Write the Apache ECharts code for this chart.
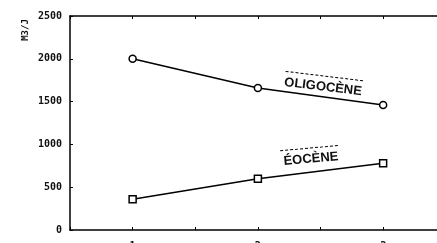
<!DOCTYPE html>
<html><head><meta charset="utf-8">
<script src="https://cdn.jsdelivr.net/npm/echarts@6/dist/echarts.min.js"></script>
<style>html,body{margin:0;padding:0;background:#fff}#c{width:437px;height:243px}</style>
</head><body><div id="c"></div>
<script>
const xValues = [1, 2, 3];
const oligocene = [2000, 1660, 1460];
const eocene = [360, 600, 780];
const yTicks = [0, 500, 1000, 1500, 2000, 2500];
const xTickLabels = ['1', '2', '3'];
const yName = 'M3/J';
const labelOligo = 'OLIGOCÈNE';
const labelEo = 'ÉOCÈNE';

const chart = echarts.init(document.getElementById('c'), null, {renderer: 'canvas'});
const lineStyle = {color: '#000', width: 1.5};
const xCommon = {type: 'value', min: 0.5, max: 3.43, interval: 0.5,
  splitLine: {show: false},
  axisLine: {show: true, lineStyle: {color: '#000', width: 1.5}},
  axisTick: {show: true, inside: true, length: 3, lineStyle: {color: '#000', width: 1}}};
chart.setOption({
  animation: false,
  grid: {left: 70, right: 0, top: 16, bottom: 13, containLabel: false, outerBoundsMode: 'none'},
  xAxis: [
    Object.assign({}, xCommon, {position: 'bottom',
      axisLabel: {show: true, margin: 11, fontSize: 10, fontFamily: 'DejaVu Sans Mono', fontWeight: 'bold', color: '#111',
        formatter: v => { const i = xValues.indexOf(v); return i >= 0 ? xTickLabels[i] : ''; }}}),
    Object.assign({}, xCommon, {position: 'top', axisLabel: {show: false}})
  ],
  yAxis: {type: 'value', min: yTicks[0], max: yTicks[yTicks.length - 1], interval: 500,
    splitLine: {show: false},
    axisLine: {show: true, lineStyle: {color: '#000', width: 1.5}},
    axisTick: {show: true, inside: true, length: 3, lineStyle: {color: '#000'}},
    axisLabel: {margin: 8, fontSize: 10, fontFamily: 'DejaVu Sans Mono', fontWeight: 'bold', color: '#111',
      formatter: v => String(v)}},
  series: [
    {type: 'line', data: xValues.map((x, i) => [x, oligocene[i]]), symbol: 'circle', symbolSize: 7,
      lineStyle: lineStyle, itemStyle: {color: '#fff', borderColor: '#000', borderWidth: 1.5}},
    {type: 'line', data: xValues.map((x, i) => [x, eocene[i]]), symbol: 'rect', symbolSize: 7,
      lineStyle: lineStyle, itemStyle: {color: '#fff', borderColor: '#000', borderWidth: 1.5}}
  ],
  graphic: [
    {type: 'text', x: 26, y: 30, rotation: Math.PI / 2,
      style: {text: yName, font: 'bold 9px "DejaVu Sans Mono"', fill: '#111', align: 'center', verticalAlign: 'middle'}},
    {type: 'group', x: 323, y: 87, rotation: -0.12, children: [
      {type: 'text', x: 0, y: 0, style: {text: labelOligo, font: 'bold 13px "Liberation Sans"', fill: '#111', align: 'center', verticalAlign: 'middle'}},
      {type: 'line', shape: {x1: -39, y1: -11, x2: 39, y2: -11}, style: {stroke: '#000', lineWidth: 1, lineDash: [3, 2]}}
    ]},
    {type: 'group', x: 311, y: 159, rotation: 0.09, children: [
      {type: 'text', x: 0, y: 0, style: {text: labelEo, font: 'bold 13px "Liberation Sans"', fill: '#111', align: 'center', verticalAlign: 'middle'}},
      {type: 'line', shape: {x1: -30, y1: -11, x2: 30, y2: -11}, style: {stroke: '#000', lineWidth: 1, lineDash: [3, 2]}}
    ]}
  ]
});
</script></body></html>
